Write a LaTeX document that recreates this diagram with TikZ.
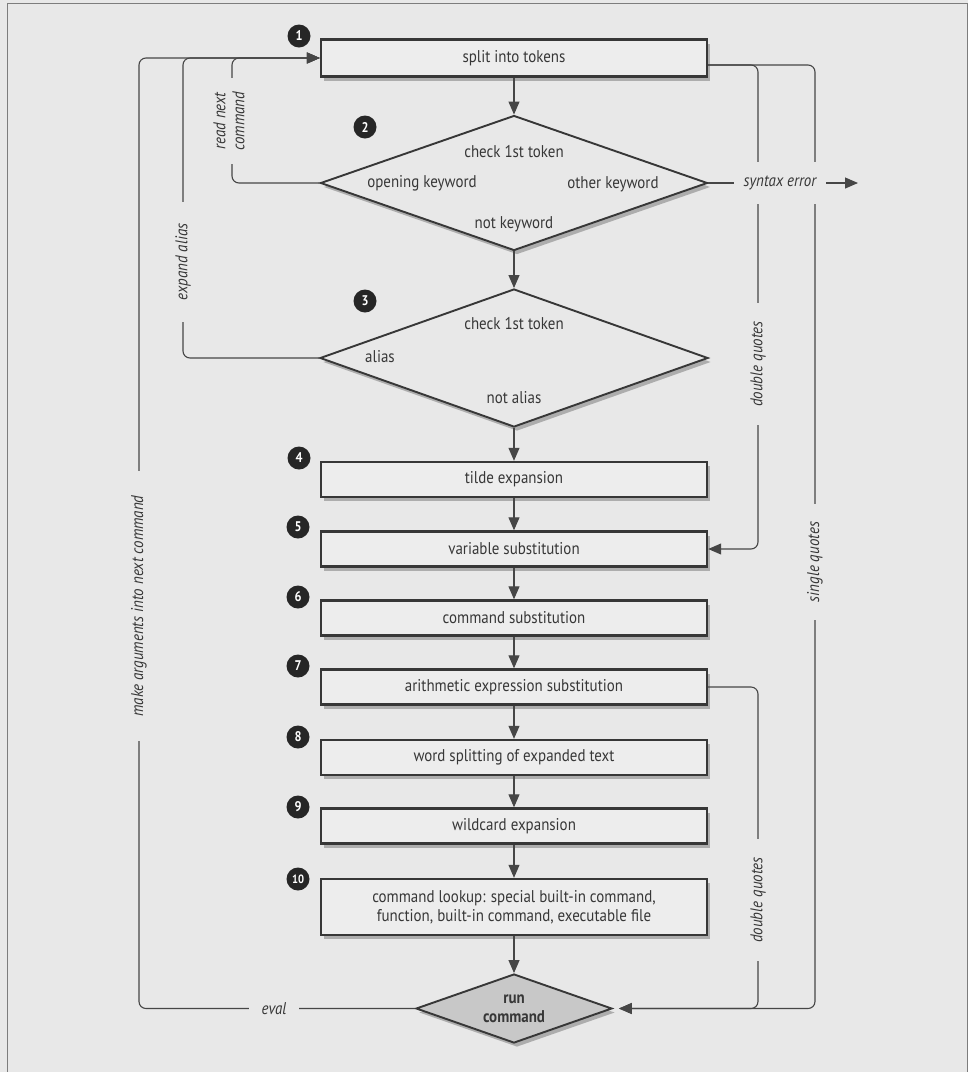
\documentclass[tikz,border=0pt]{standalone}
\usepackage{fontspec}
\setmainfont{PT Sans}[FakeStretch=0.88]
\usetikzlibrary{arrows.meta,shapes.geometric,shadows}
\definecolor{bg}{RGB}{232,232,232}
\definecolor{boxfill}{RGB}{237,237,237}
\definecolor{ink}{RGB}{55,55,55}
\definecolor{linec}{RGB}{70,70,70}
\definecolor{framec}{RGB}{125,125,125}
\definecolor{runfill}{RGB}{200,200,200}
\begin{document}
\begin{tikzpicture}[x=1pt,y=-1pt,
  every node/.style={text=ink, font=\fontsize{17}{19}\selectfont},
  shad/.style={drop shadow={shadow xshift=3pt, shadow yshift=-4pt, fill=black, opacity=0.25}},
  stepbox/.style={draw=ink, line width=2.4pt, fill=boxfill, minimum width=386pt,
    minimum height=35pt, inner sep=0pt, align=center, shad},
  dia/.style={diamond, draw=ink, line width=1.9pt, fill=bg, inner sep=0pt, shad},
  conn/.style={draw=linec, line width=1.1pt, rounded corners=7pt},
  arr/.style={conn, -{Triangle[length=13pt,width=11pt]}},
  lbl/.style={fill=bg, font=\itshape\fontsize{17}{19}\selectfont, inner ysep=2pt},
  mk/.style={circle, fill=black!85, text=white, font=\bfseries\fontsize{14}{14}\selectfont,
    inner sep=0pt, minimum size=23pt}
]
\fill[bg] (0,0) rectangle (968,1072);
\useasboundingbox (0,0) rectangle (968,1072);
\draw[framec, line width=1pt] (7,1072) -- (7,3) -- (967,3) -- (967,1072);

% boxes and decisions
\node[stepbox, minimum height=37pt] (b1) at (514,58) {split into tokens};
\node[dia, minimum width=387pt, minimum height=135pt] (d2) at (514,183) {};
\node[dia, minimum width=388pt, minimum height=138pt] (d3) at (514,358) {};
\node[stepbox] (b4) at (514,479.5) {tilde expansion};
\node[stepbox] (b5) at (514,549) {variable substitution};
\node[stepbox] (b6) at (514,618) {command substitution};
\node[stepbox] (b7) at (514,687) {arithmetic expression substitution};
\node[stepbox] (b8) at (514,757.5) {word splitting of expanded text};
\node[stepbox] (b9) at (514,826) {wildcard expansion};
\node[stepbox, minimum height=56pt] (b10) at (514,907) {command lookup: special built-in command,\\function, built-in command, executable file};
\node[diamond, draw=ink, line width=1.9pt, fill=runfill, inner sep=0pt, shad,
  minimum width=196pt, minimum height=69pt] (rc) at (514,1008.5) {};

% texts inside decisions
\node (t2a) at (514,152) {check 1st token};
\node (t2b) at (422,183) {opening keyword};
\node (t2c) at (613,184) {other keyword};
\node (t2d) at (514,224) {not keyword};
\node (t3a) at (514,324) {check 1st token};
\node (t3b) at (380,357) {alias};
\node (t3c) at (514,398) {not alias};
\node[font=\bfseries\fontsize{17}{19}\selectfont, align=center] (t4) at (rc) {run\\command};

% main flow
\draw[arr] (b1.south) -- (d2.north);
\draw[arr] (d2.south) -- (d3.north);
\draw[arr] (d3.south) -- (b4.north);
\draw[arr] (b4.south) -- (b5.north);
\draw[arr] (b5.south) -- (b6.north);
\draw[arr] (b6.south) -- (b7.north);
\draw[arr] (b7.south) -- (b8.north);
\draw[arr] (b8.south) -- (b9.north);
\draw[arr] (b9.south) -- (b10.north);
\draw[arr] (b10.south) -- (rc.north);

% left loops
\draw[arr] (d2.west) -- (232,183) -- (232,58) -- (b1.west);
\draw[arr] (d3.west) -- (183,358) -- (183,58) -- (b1.west);
\draw[arr] (rc.west) -- (139,1008.5) -- (139,58) -- (b1.west);

% right side
\coordinate (se) at (858,183);
\draw[arr] (d2.east) -- (se);
\draw[arr] ([yshift=-7pt]b1.east) -- (758,65) -- (758,549) -- (b5.east);
\draw[arr, shorten >=6pt] ([yshift=-7pt]b1.east) -- (815,65) -- (815,1008.5) -- (rc.east);
\draw[arr, shorten >=6pt] (b7.east) -- (758,687) -- (758,1008.5) -- (rc.east);

% connector labels
\node[lbl, rotate=90, align=center, inner xsep=14pt] (lrn) at (229,121) {read next\\command};
\node[lbl, rotate=90, inner xsep=22pt] (lea) at (183,262) {expand alias};
\node[lbl, rotate=90, inner xsep=24pt] (lma) at (139,606) {make arguments into next command};
\node[lbl, inner xsep=13pt] (lev) at (274,1008.5) {eval};
\node[lbl, inner xsep=10pt, inner ysep=14pt] (lse) at (780,183) {syntax error};
\node[lbl, rotate=90, inner xsep=18pt] (ldq1) at (758,364) {double quotes};
\node[lbl, rotate=90, inner xsep=18pt] (lsq) at (815,562) {single quotes};
\node[lbl, rotate=90, inner xsep=18pt] (ldq2) at (758,900) {double quotes};

% step markers
\node[mk] (m1) at (299,36) {1};
\node[mk] (m2) at (365,127) {2};
\node[mk] (m3) at (365,301) {3};
\node[mk] (m4) at (299,458) {4};
\node[mk] (m5) at (298,527) {5};
\node[mk] (m6) at (298,597) {6};
\node[mk] (m7) at (298,666) {7};
\node[mk] (m8) at (298,737) {8};
\node[mk] (m9) at (298,807) {9};
\node[mk, font=\bfseries\fontsize{12}{12}\selectfont] (m10) at (298,879) {10};
\end{tikzpicture}
\end{document}
